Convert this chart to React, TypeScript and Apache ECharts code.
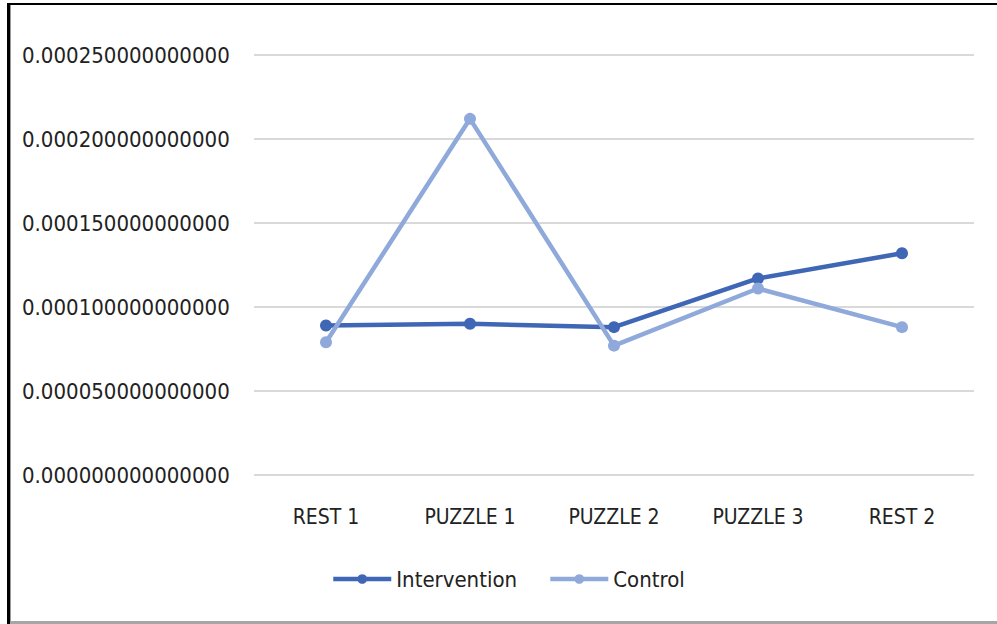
import React, { useEffect, useRef } from "react";
import * as echarts from "echarts";

const categories = ["REST 1", "PUZZLE 1", "PUZZLE 2", "PUZZLE 3", "REST 2"];
const intervention = [0.000089, 0.00009, 0.000088, 0.000117, 0.000132];
const control = [0.000079, 0.000212, 0.000077, 0.000111, 0.000088];
const yMin = 0;
const yMax = 0.00025;
const yInterval = 0.00005;

const FONT = "'DejaVu Sans Condensed', 'Liberation Sans', Arial, sans-serif";
const DARK = "#3F67B5";
const LIGHT = "#8FA9DB";

export default function App() {
  const ref = useRef<HTMLDivElement>(null);
  useEffect(() => {
    if (!ref.current) return;
    const chart = echarts.init(ref.current, null, { renderer: "svg" });
    chart.setOption({
      animation: false,
      backgroundColor: "#ffffff",
      grid: { left: 254, right: 23, top: 55, bottom: 149, containLabel: false },
      xAxis: {
        type: "category",
        data: categories,
        boundaryGap: true,
        axisLine: { show: false },
        axisTick: { show: false },
        axisLabel: { color: "#222", fontSize: 21, fontFamily: FONT, margin: 31, interval: 0 },
      },
      yAxis: {
        type: "value",
        min: yMin,
        max: yMax,
        interval: yInterval,
        axisLine: { show: false },
        axisTick: { show: false },
        axisLabel: {
          color: "#222",
          fontSize: 22,
          fontFamily: FONT,
          align: "left",
          margin: 232,
          formatter: (v: number) => v.toFixed(15),
        },
        splitLine: { lineStyle: { color: "#D9D9D9", width: 2 } },
      },
      legend: {
        left: 326,
        top: 563,
        itemWidth: 58,
        itemHeight: 12,
        itemGap: 31,
        lineStyle: { width: 4.5 },
        textStyle: { color: "#222", fontSize: 22, fontFamily: FONT },
        data: ["Intervention", "Control"],
      },
      series: [
        {
          name: "Intervention",
          type: "line",
          data: intervention,
          symbol: "circle",
          symbolSize: 12,
          lineStyle: { color: DARK, width: 4.5 },
          itemStyle: { color: DARK },
        },
        {
          name: "Control",
          type: "line",
          data: control,
          symbol: "circle",
          symbolSize: 12,
          lineStyle: { color: LIGHT, width: 4.5 },
          itemStyle: { color: LIGHT },
        },
      ],
      graphic: [
        { type: "rect", shape: { x: 7, y: 3, width: 990, height: 2 }, style: { fill: "#000" } },
        { type: "rect", shape: { x: 7, y: 3, width: 3, height: 621 }, style: { fill: "#000" } },
        { type: "rect", shape: { x: 10, y: 5, width: 1, height: 619 }, style: { fill: "#999" } },
        { type: "rect", shape: { x: 10, y: 621, width: 987, height: 3 }, style: { fill: "#A6A6A6" } },
      ],
    });
    return () => chart.dispose();
  }, []);
  return (
    <div
      ref={ref}
      style={{ position: "fixed", left: 0, top: 0, width: 997, height: 624 }}
    />
  );
}
